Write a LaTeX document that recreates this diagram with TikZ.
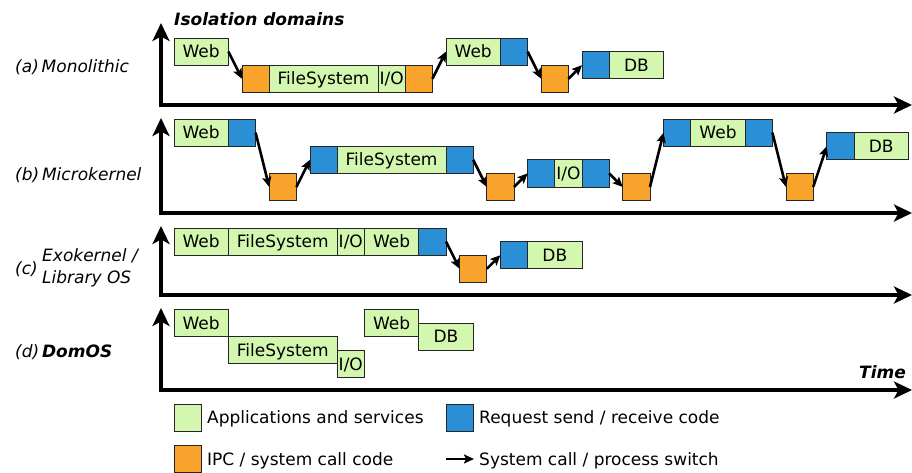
\documentclass[tikz,border=0pt]{standalone}
\usepackage{fontspec}
\setmainfont{DejaVu Sans}
\usetikzlibrary{arrows.meta}

\definecolor{appgreen}{HTML}{D3F7AF}
\definecolor{reqblue}{HTML}{2B8FD6}
\definecolor{ipcorange}{HTML}{F8A42C}
\definecolor{edgegray}{HTML}{262626}

\tikzset{
  cell/.style={draw=edgegray, line width=0.9pt, inner sep=0pt, outer sep=0pt,
    anchor=north west, minimum height=27.2pt, text height=12.4pt, text depth=0pt,
    font=\fontsize{17}{20}\selectfont},
  app/.style={cell, fill=appgreen},
  req/.style={cell, fill=reqblue, minimum width=27.2pt},
  ipc/.style={cell, fill=ipcorange, minimum width=27.2pt},
  w1/.style={minimum width=27.2pt},
  w2/.style={minimum width=54.4pt},
  w4/.style={minimum width=108.8pt},
  call/.style={line width=2.6pt, -{Stealth[length=10pt,width=9pt,inset=2pt]}},
  axis/.style={line width=3.2pt,
    {Stealth[length=18pt,width=17pt,inset=4.5pt]}-{Stealth[length=18pt,width=17pt,inset=4.5pt]}},
  txt/.style={anchor=west, inner sep=0pt, text height=12.4pt, text depth=0pt,
    font=\fontsize{17}{20}\selectfont},
  lbl/.style={txt, font=\fontsize{17}{20}\selectfont\itshape},
}

\begin{document}
\begin{tikzpicture}[x=1pt, y=-1pt]
\useasboundingbox (0,0) rectangle (912,473);

% ---- time axes ----
\coordinate (atop) at (161,23);  \coordinate (aorg) at (161,105); \coordinate (aend) at (912,105);
\coordinate (btop) at (161,118); \coordinate (borg) at (161,213); \coordinate (bend) at (912,213);
\coordinate (ctop) at (161,226); \coordinate (corg) at (161,295); \coordinate (cend) at (912,295);
\coordinate (dtop) at (161,308); \coordinate (dorg) at (161,390); \coordinate (dend) at (912,390);
\draw[axis] (atop) -- (aorg) -- (aend);
\draw[axis] (btop) -- (borg) -- (bend);
\draw[axis] (ctop) -- (corg) -- (cend);
\draw[axis] (dtop) -- (dorg) -- (dend);

\node[txt, font=\fontsize{17}{20}\selectfont\bfseries\itshape] (ytitle) at (174,19) {Isolation domains};
\node[txt, font=\fontsize{17}{20}\selectfont\bfseries\itshape] (xtitle) at (859,372) {Time};

% ---- row labels ----
\node[lbl] (la) at (15,66) {(a)\,Monolithic};
\node[lbl] (lb) at (15,174) {(b)\,Microkernel};
\node[lbl] (lc) at (15,268) {(c)};
\node[anchor=west, inner sep=0pt, align=left, font=\fontsize{17}{22}\selectfont\itshape] (lc2) at (42,268) {Exokernel /\\Library OS};
\node[lbl] (ld) at (15,351) {(d)\,\textbf{DomOS}};

% ---- (a) monolithic ----
\node[app,w2] (a1) at (174,38) {Web};
\node[ipc] (a2) at (242,65.2) {};
\node[app,w4] (a3) at (269.2,65.2) {FileSystem};
\node[app,w1] (a4) at (378,65.2) {I/O};
\node[ipc] (a5) at (405.2,65.2) {};
\node[app,w2] (a6) at (446,38) {Web};
\node[req] (a7) at (500.4,38) {};
\node[ipc] (a8) at (541.2,65.2) {};
\node[req] (a9) at (582,51.6) {};
\node[app,w2] (a10) at (609.2,51.6) {DB};
\draw[call] (a1.east) -- (a2.west);
\draw[call] (a5.east) -- (a6.west);
\draw[call] (a7.east) -- (a8.west);
\draw[call] (a8.east) -- (a9.west);

% ---- (b) microkernel ----
\node[app,w2] (b1) at (174,119) {Web};
\node[req] (b2) at (228.4,119) {};
\node[ipc] (b3) at (269.2,173.4) {};
\node[req] (b4) at (310,146.2) {};
\node[app,w4] (b5) at (337.2,146.2) {FileSystem};
\node[req] (b6) at (446,146.2) {};
\node[ipc] (b7) at (486.8,173.4) {};
\node[req] (b8) at (527.6,159.8) {};
\node[app,w1] (b9) at (554.8,159.8) {I/O};
\node[req] (b10) at (582,159.8) {};
\node[ipc] (b11) at (622.8,173.4) {};
\node[req] (b12) at (663.6,119) {};
\node[app,w2] (b13) at (690.8,119) {Web};
\node[req] (b14) at (745.2,119) {};
\node[ipc] (b15) at (786,173.4) {};
\node[req] (b16) at (826.8,132.6) {};
\node[app,w2] (b17) at (854,132.6) {DB};
\draw[call] (b2.east) -- (b3.west);
\draw[call] (b3.east) -- (b4.west);
\draw[call] (b6.east) -- (b7.west);
\draw[call] (b7.east) -- (b8.west);
\draw[call] (b10.east) -- (b11.west);
\draw[call] (b11.east) -- (b12.west);
\draw[call] (b14.east) -- (b15.west);
\draw[call] (b15.east) -- (b16.west);

% ---- (c) exokernel / library OS ----
\node[app,w2] (c1) at (174,228) {Web};
\node[app,w4] (c2) at (228.4,228) {FileSystem};
\node[app,w1] (c3) at (337.2,228) {I/O};
\node[app,w2] (c4) at (364.4,228) {Web};
\node[req] (c5) at (418.8,228) {};
\node[ipc] (c6) at (459.6,255.2) {};
\node[req] (c7) at (500.4,241.6) {};
\node[app,w2] (c8) at (527.6,241.6) {DB};
\draw[call] (c5.east) -- (c6.west);
\draw[call] (c6.east) -- (c7.west);

% ---- (d) DomOS ----
\node[app,w2] (d1) at (174,309.5) {Web};
\node[app,w4] (d2) at (228.4,336.7) {FileSystem};
\node[app,w1] (d3) at (337.2,350.3) {I/O};
\node[app,w2] (d4) at (364.4,309.5) {Web};
\node[app,w2] (d5) at (418.8,323.1) {DB};

% ---- legend ----
\node[app,w1] (k1) at (174,404) {};
\node[txt] (k1t) at (207,417.6) {Applications and services};
\node[req] (k2) at (446,404) {};
\node[txt] (k2t) at (479,417.6) {Request send / receive code};
\node[ipc] (k3) at (174,445.4) {};
\node[txt] (k3t) at (207,459) {IPC / system call code};
\coordinate (k4s) at (446,459);
\draw[call] (k4s) -- (k3t.west -| 474,0);
\node[txt] (k4t) at (479,459) {System call / process switch};
\end{tikzpicture}
\end{document}
